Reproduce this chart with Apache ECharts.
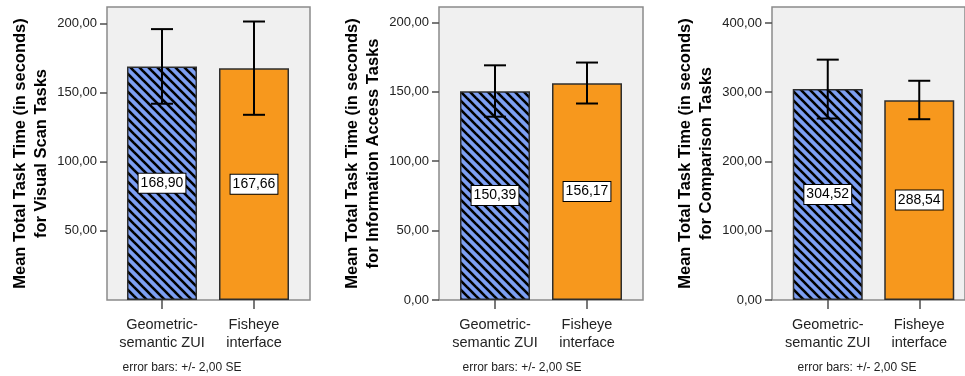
<!DOCTYPE html>
<html>
<head>
<meta charset="utf-8">
<script src="https://cdn.jsdelivr.net/npm/echarts@6/dist/echarts.min.js"></script>
<style>
html,body{margin:0;padding:0;background:#fff;}
#chart{width:965px;height:376px;}
</style>
</head>
<body>
<div id="chart"></div>
<script>
// ---- data ----
const categories = ['Geometric-\nsemantic ZUI', 'Fisheye\ninterface'];

const visualScanMeans = [168.90, 167.66];
const visualScanLow = [142.0, 134.0];
const visualScanHigh = [196.0, 201.5];

const infoAccessMeans = [150.39, 156.17];
const infoAccessLow = [132.0, 141.5];
const infoAccessHigh = [169.0, 171.0];

const comparisonMeans = [304.52, 288.54];
const comparisonLow = [262.0, 261.0];
const comparisonHigh = [347.0, 316.5];

const visualScanTicks = [50, 100, 150, 200];
const infoAccessTicks = [0, 50, 100, 150, 200];
const comparisonTicks = [0, 100, 200, 300, 400];

const yNames = [
  'Mean Total Task Time (in seconds)\nfor Visual Scan Tasks',
  'Mean Total Task Time (in seconds)\nfor Information Access Tasks',
  'Mean Total Task Time (in seconds)\nfor Comparison Tasks'
];
const footnote = 'error bars: +/- 2,00 SE';

// ---- styling ----
const FONT = '"Liberation Sans", Arial, sans-serif';
const BLUE = '#7d9ff2';
const ORANGE = '#f7981d';

function hatchPattern() {
  const s = 9;
  const c = document.createElement('canvas');
  c.width = s; c.height = s;
  const g = c.getContext('2d');
  g.fillStyle = BLUE;
  g.fillRect(0, 0, s, s);
  g.strokeStyle = '#000';
  g.lineWidth = 2.6;
  for (let k = -1; k <= 1; k++) {
    g.beginPath();
    g.moveTo(k * s - 1, -1);
    g.lineTo(k * s + s + 1, s + 1);
    g.stroke();
  }
  return { image: c, repeat: 'repeat' };
}
const hatch = hatchPattern();

const fmt = v => Number(v).toFixed(2).replace('.', ',');

const panels = [
  { frame: { left: 107, right: 655 }, data: { left: 116, right: 665 }, max: 212,
    means: visualScanMeans, low: visualScanLow, high: visualScanHigh, ticks: visualScanTicks, name: yNames[0], note: 182 },
  { frame: { left: 439, right: 322 }, data: { left: 449, right: 332 }, max: 211,
    means: infoAccessMeans, low: infoAccessLow, high: infoAccessHigh, ticks: infoAccessTicks, name: yNames[1], note: 522 },
  { frame: { left: 772, right: -12 }, data: { left: 782, right: -1 }, max: 423,
    means: comparisonMeans, low: comparisonLow, high: comparisonHigh, ticks: comparisonTicks, name: yNames[2], note: 857 }
];

const TOP = 7, BOTTOM = 76;

const grid = [], xAxis = [], yAxis = [], series = [], graphic = [];

panels.forEach((p, i) => {
  // frame grid (background + border)
  grid.push({ left: p.frame.left, right: p.frame.right, top: TOP, bottom: BOTTOM,
    show: true, backgroundColor: '#f0f0f0', borderColor: '#8a8a8a', borderWidth: 1.5, z: 0 });
  // data grid
  const gi = grid.length;
  grid.push({ left: p.data.left, right: p.data.right, top: TOP, bottom: BOTTOM, show: false });

  xAxis.push({
    type: 'category', gridIndex: gi, data: categories,
    axisLine: { show: false },
    axisTick: { show: true, alignWithLabel: true, length: 9, lineStyle: { color: '#4d4d4d', width: 1.5 } },
    axisLabel: { fontFamily: FONT, fontSize: 14.5, lineHeight: 18, color: '#222', margin: 16, interval: 0 },
    splitLine: { show: false }
  });
  yAxis.push({
    type: 'value', gridIndex: gi, min: 0, max: p.max,
    offset: p.data.left - p.frame.left,
    axisLine: { show: false },
    axisTick: { show: true, length: 7, customValues: p.ticks, lineStyle: { color: '#4d4d4d', width: 1.5 } },
    axisLabel: { customValues: p.ticks, formatter: fmt, fontFamily: FONT, fontSize: 13, color: '#222', margin: 10 },
    splitLine: { show: false },
    name: p.name, nameLocation: 'middle', nameGap: 55, nameRotate: 90,
    nameTextStyle: { fontFamily: FONT, fontSize: 16.5, fontWeight: 'bold', color: '#000', lineHeight: 21, align: 'center' }
  });

  const ai = xAxis.length - 1;
  series.push({
    type: 'bar', xAxisIndex: ai, yAxisIndex: ai, barWidth: 70, z: 2,
    data: p.means.map((v, j) => ({
      value: v,
      itemStyle: { color: j === 0 ? hatch : ORANGE, borderColor: '#2e2e2e', borderWidth: 1.5 }
    })),
    label: {
      show: true, position: 'inside', formatter: q => fmt(q.value),
      fontFamily: FONT, fontSize: 14, color: '#000',
      backgroundColor: '#fff', borderColor: '#000', borderWidth: 1, padding: [2, 2], lineHeight: 15
    },
    emphasis: { disabled: true },
    animation: false
  });
  series.push({
    type: 'custom', xAxisIndex: ai, yAxisIndex: ai, z: 5,
    data: p.means.map((v, j) => [j, p.low[j], p.high[j]]),
    encode: { x: 0, y: [1, 2] },
    renderItem: (params, api) => {
      const x = api.value(0);
      const lo = api.coord([x, api.value(1)]);
      const hi = api.coord([x, api.value(2)]);
      const h = 11;
      const st = { stroke: '#000', lineWidth: 2 };
      return { type: 'group', children: [
        { type: 'line', shape: { x1: hi[0], y1: hi[1], x2: lo[0], y2: lo[1] }, style: st },
        { type: 'line', shape: { x1: hi[0] - h, y1: hi[1], x2: hi[0] + h, y2: hi[1] }, style: st },
        { type: 'line', shape: { x1: lo[0] - h, y1: lo[1], x2: lo[0] + h, y2: lo[1] }, style: st }
      ]};
    },
    animation: false
  });

  graphic.push({ type: 'text', x: p.note, y: 368,
    style: { text: footnote, fontFamily: FONT, fontSize: 12, fill: '#222', align: 'center', verticalAlign: 'middle' } });
});

const chart = echarts.init(document.getElementById('chart'), null, { renderer: 'canvas' });
chart.setOption({ animation: false, grid, xAxis, yAxis, series, graphic });
</script>
</body>
</html>
